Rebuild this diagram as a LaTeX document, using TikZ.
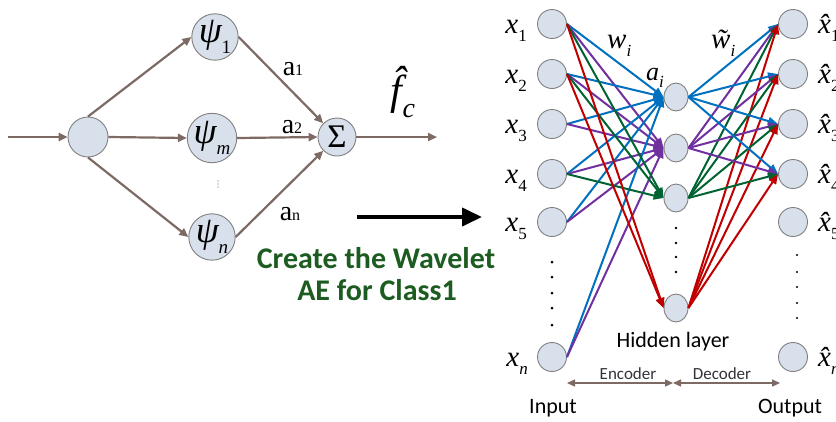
\documentclass[tikz,border=0pt]{standalone}
\usepackage{fontspec}
\setmainfont{Liberation Serif}
\newfontfamily\calfont{Carlito}
\usetikzlibrary{arrows.meta,shapes.geometric}
\definecolor{nfill}{RGB}{216,224,236}
\definecolor{nbord}{RGB}{128,128,128}
\definecolor{brn}{RGB}{125,106,100}
\definecolor{cblue}{RGB}{0,112,192}
\definecolor{cpurp}{RGB}{112,48,160}
\definecolor{cgreen}{RGB}{0,100,50}
\definecolor{cred}{RGB}{192,0,0}
\definecolor{dgreen}{RGB}{28,92,32}
\definecolor{etext}{RGB}{50,50,60}
\newcommand{\sbx}[1]{\raisebox{-0.28em}{\fontsize{17}{17}\selectfont #1}}
\newcommand{\sbl}[1]{\raisebox{-0.3em}{\fontsize{19}{19}\selectfont #1}}
\begin{document}
\begin{tikzpicture}[x=1pt,y=-1pt,
  lnode/.style={circle,draw=nbord,fill=nfill,line width=0.9pt,minimum size=38pt,inner sep=0pt},
  rnode/.style={circle,draw=nbord,fill=nfill,line width=0.9pt,minimum size=29pt,inner sep=0pt},
  hnode/.style={ellipse,draw=nbord,fill=nfill,line width=0.9pt,minimum width=24pt,minimum height=28pt,inner sep=0pt},
  bedge/.style={draw=brn,line width=2.2pt,-{Triangle[length=9pt,width=8pt]}},
  cedge/.style={line width=2pt,-{Triangle[length=10pt,width=8pt]}},
  mlbl/.style={font=\fontsize{29}{29}\selectfont\itshape,inner sep=0pt},
  slbl/.style={font=\calfont\fontsize{22}{22}\selectfont,inner sep=0pt},
  elbl/.style={font=\calfont\fontsize{17}{17}\selectfont,inner sep=0pt,text=etext},
  wlbl/.style={font=\fontsize{28}{28}\selectfont,inner sep=0pt},
  gtitle/.style={font=\calfont\bfseries\fontsize{30}{30}\selectfont,text=dgreen,inner sep=0pt}
]
\clip (0,0) rectangle (836,421);
\fill[white] (0,0) rectangle (836,421);

% ---------- left wavelet network ----------
\node[lnode,minimum size=40pt] (in) at (88,137) {};
\node[lnode] (p1) at (215,37) {\fontsize{37}{37}\selectfont\itshape ψ\sbl{\upshape 1}};
\node[lnode] (pm) at (212,138) {\fontsize{37}{37}\selectfont\itshape ψ\sbl{m}};
\node[lnode] (pn) at (212,237) {\fontsize{37}{37}\selectfont\itshape ψ\sbl{n}};
\node[lnode] (sum) at (337,137) {\fontsize{33}{33}\selectfont Σ};
\coordinate (lin) at (8,137);
\coordinate (lout) at (437,137);

\draw[bedge] (lin) -- (in.west);
\draw[bedge] (in.north) -- (p1.west);
\draw[bedge] (in.east) -- (pm.west);
\draw[bedge] (in.south) -- (pn.west);
\draw[bedge] (p1.east) -- (sum.north west);
\draw[bedge] (pm.east) -- (sum.west);
\draw[bedge] (pn.east) -- (sum.south west);
\draw[bedge] (sum.east) -- (lout);

\node[wlbl,anchor=base] (la1) at (293,75) {a{\fontsize{16}{16}\selectfont 1}};
\node[wlbl,anchor=base] (la2) at (292,133) {a{\fontsize{16}{16}\selectfont 2}};
\node[wlbl,anchor=base] (lan) at (290,220) {a{\fontsize{16}{16}\selectfont n}};
\node[inner sep=0pt,font=\fontsize{42}{42}\selectfont\itshape] (fc) at (403,92) {\^{f}\raisebox{-0.3em}{\fontsize{28}{28}\selectfont c}};
\fill[cblue!60!gray] (218,181) circle[radius=0.7pt] (218,184) circle[radius=0.7pt] (218,187) circle[radius=0.7pt];

% ---------- big arrow and title ----------
\coordinate (ba) at (357,217);
\coordinate (bb) at (482,217);
\draw[line width=4pt,-{Triangle[length=20pt,width=18pt]}] (ba) -- (bb);
\node[gtitle,anchor=base] (t1) at (376,268) {Create the Wavelet};
\node[gtitle,anchor=base] (t2) at (377,300) {AE for Class1};

% ---------- autoencoder ----------
\foreach \n/\y in {1/24,2/74,3/124,4/174,5/222,6/357}{
  \node[rnode] (i\n) at (552,\y) {};
  \node[rnode] (o\n) at (793,\y) {};
}
\foreach \n/\y in {1/97,2/148,3/198,4/308}{
  \node[hnode] (h\n) at (676,\y) {};
}

% input labels
\node[mlbl,anchor=base east] (lx1) at (527,33) {x\sbx{\upshape 1}};
\node[mlbl,anchor=base east] (lx2) at (527,83) {x\sbx{\upshape 2}};
\node[mlbl,anchor=base east] (lx3) at (527,133) {x\sbx{\upshape 3}};
\node[mlbl,anchor=base east] (lx4) at (527,183) {x\sbx{\upshape 4}};
\node[mlbl,anchor=base east] (lx5) at (527,231) {x\sbx{\upshape 5}};
\node[mlbl,anchor=base east] (lxn) at (528,366) {x\sbx{n}};
% output labels
\node[mlbl,anchor=base west] (ly1) at (818,33) {\^{x}\sbx{\upshape 1}};
\node[mlbl,anchor=base west] (ly2) at (818,83) {\^{x}\sbx{\upshape 2}};
\node[mlbl,anchor=base west] (ly3) at (818,133) {\^{x}\sbx{\upshape 3}};
\node[mlbl,anchor=base west] (ly4) at (818,183) {\^{x}\sbx{\upshape 4}};
\node[mlbl,anchor=base west] (ly5) at (818,231) {\^{x}\sbx{\upshape 5}};
\node[mlbl,anchor=base west] (lyn) at (818,366) {\^{x}\sbx{n}};

% weights labels
\node[mlbl,font=\fontsize{29}{29}\selectfont\itshape,anchor=base west] (lw) at (607,48) {w\sbx{i}};
\node[mlbl,font=\fontsize{29}{29}\selectfont\itshape,anchor=base west] (lwt) at (711,48) {\~{w}\sbx{i}};
\node[mlbl,font=\fontsize{26}{26}\selectfont\itshape,anchor=base west] (lai) at (646,80) {a\sbx{i}};

% encoder edges
\foreach \i in {1,2,3,4,5,6}{
  \draw[cedge,cblue] (i\i.east) -- (h1.west);
  \draw[cedge,cpurp] (i\i.east) -- (h2.west);
}
\foreach \i in {1,2,4}{
  \draw[cedge,cgreen] (i\i.east) -- (h3.west);
}
\foreach \i in {1,2}{
  \draw[cedge,cred] (i\i.east) -- (h4.west);
}
% decoder edges
\foreach \o in {1,2,3,4}{
  \draw[cedge,cblue] (h1.east) -- (o\o.west);
  \draw[cedge,cpurp] (h2.east) -- (o\o.west);
  \draw[cedge,cgreen] (h3.east) -- (o\o.west);
  \draw[cedge,cred] (h4.east) -- (o\o.west);
}

% vertical dots
\foreach \y in {262,277,293,308,325}{\fill (552,\y) circle[radius=1.5pt];}
\foreach \y in {228,243,257,272}{\fill (676,\y) circle[radius=1.4pt];}
\foreach \y in {255,272,287,303,318}{\fill (797,\y) circle[radius=1.2pt];}

% texts
\node[slbl,anchor=base] (hl) at (673,347) {Hidden layer};
\node[slbl,anchor=base] (inp) at (553,413) {Input};
\node[slbl,anchor=base] (outp) at (790,413) {Output};
\coordinate (e1) at (567,383);
\coordinate (e2) at (673,383);
\coordinate (e3) at (780,383);
\draw[brn,line width=1.4pt,{Triangle[length=8pt,width=7pt]}-{Triangle[length=8pt,width=7pt]}] (e1) -- (e2);
\draw[brn,line width=1.4pt,{Triangle[length=8pt,width=7pt]}-{Triangle[length=8pt,width=7pt]}] (e2) -- (e3);
\node[elbl,anchor=base] (enc) at (628,379) {Encoder};
\node[elbl,anchor=base] (dec) at (722,379) {Decoder};
\end{tikzpicture}
\end{document}
